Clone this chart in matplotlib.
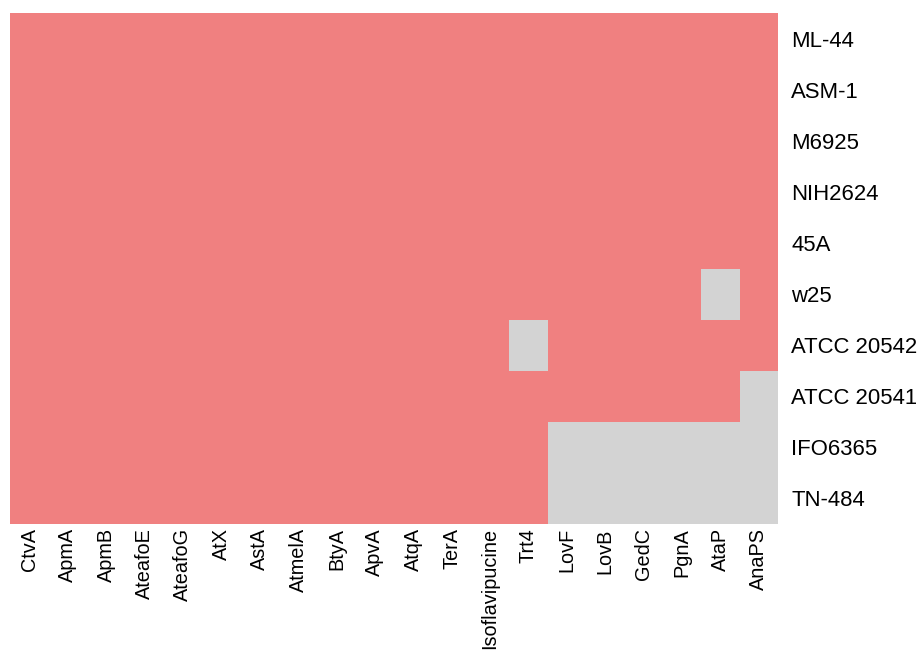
import matplotlib
matplotlib.use("Agg")
import matplotlib.pyplot as plt
from matplotlib.colors import ListedColormap
import numpy as np

plt.rcParams['font.family'] = ['Liberation Sans', 'DejaVu Sans']

genes = ["CtvA", "ApmA", "ApmB", "AteafoE", "AteafoG", "AtX", "AstA", "AtmelA",
         "BtyA", "ApvA", "AtqA", "TerA", "Isoflavipucine", "Trt4", "LovF", "LovB",
         "GedC", "PgnA", "AtaP", "AnaPS"]
strains = ["ML-44", "ASM-1", "M6925", "NIH2624", "45A", "w25", "ATCC 20542",
           "ATCC 20541", "IFO6365", "TN-484"]

# 1 = present, 0 = absent
presence = [
    [1]*20,  # ML-44
    [1]*20,  # ASM-1
    [1]*20,  # M6925
    [1]*20,  # NIH2624
    [1]*20,  # 45A
    [1]*18 + [0, 1],  # w25
    [1]*13 + [0] + [1]*6,  # ATCC 20542
    [1]*19 + [0],  # ATCC 20541
    [1]*14 + [0]*6,  # IFO6365
    [1]*14 + [0]*6,  # TN-484
]

data = np.array(presence)
cmap = ListedColormap(["#D3D3D3", "#F08080"])

fig = plt.figure(figsize=(9.24, 6.53), dpi=100)
ax = fig.add_axes([10/924, (653-524)/653, 768/924, 511/653])
ax.pcolormesh(np.arange(len(genes)+1), np.arange(len(strains)+1), data,
              cmap=cmap, vmin=0, vmax=1, edgecolor='none')
ax.set_xlim(0, len(genes))
ax.set_ylim(len(strains), 0)
ax.set_xticks(np.arange(len(genes)) + 0.5)
ax.set_xticklabels(genes, rotation=90, fontsize=14.3)
ax.set_yticks(np.arange(len(strains)) + 0.5)
ax.set_yticklabels(strains, fontsize=15.9)
ax.yaxis.tick_right()
ax.tick_params(axis='both', length=0)
ax.tick_params(axis='y', pad=9.5)
ax.tick_params(axis='x', pad=3)
for s in ax.spines.values():
    s.set_visible(False)

fig.savefig("out.png", dpi=100)
